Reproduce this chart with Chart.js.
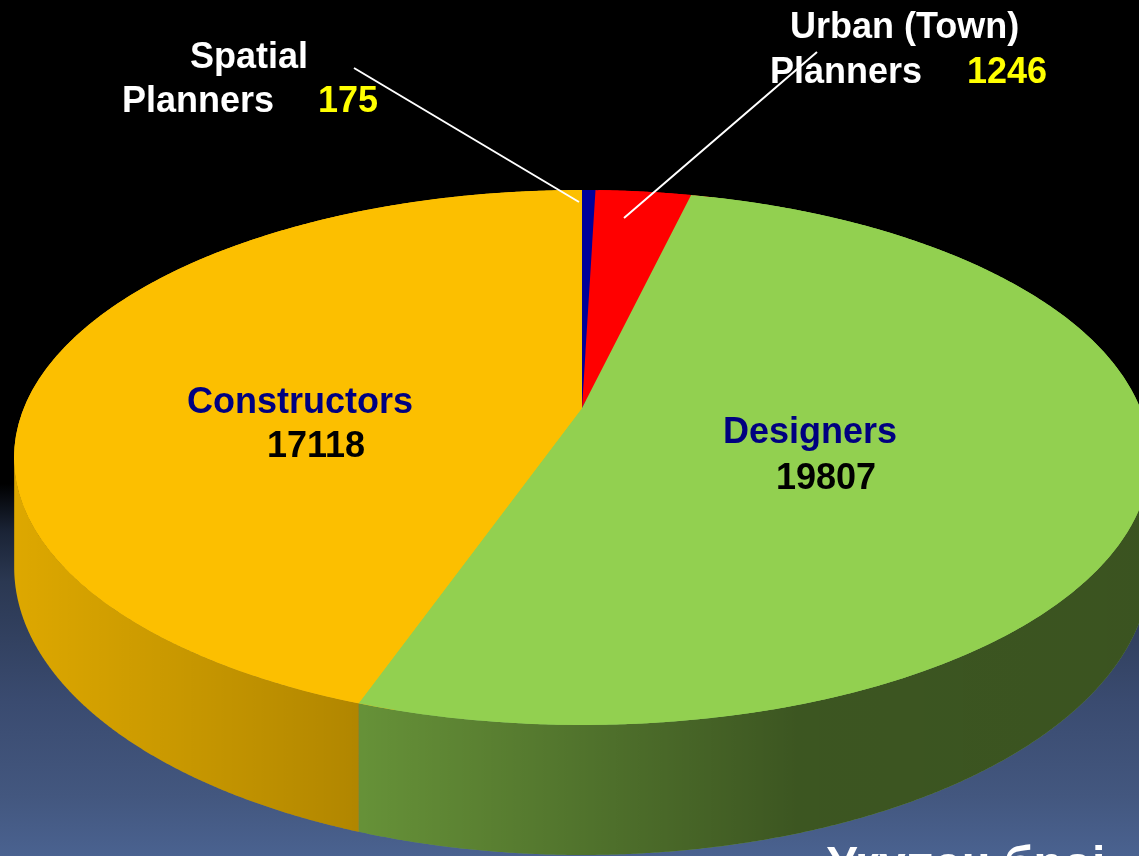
<!DOCTYPE html>
<html>
<head>
<meta charset="utf-8">
<script src="https://cdn.jsdelivr.net/npm/chart.js@4/dist/chart.umd.min.js"></script>
<style>
  html, body { margin: 0; padding: 0; background: #000; overflow: hidden; }
  canvas { display: block; }
</style>
</head>
<body>
<canvas id="pieChart" width="1139" height="856"></canvas>
<script>
// data
const categories = ['Spatial Planners', 'Urban (Town) Planners', 'Designers', 'Constructors'];
const values = [175, 1246, 19807, 17118];
const colors = ['#000099', '#FF0000', '#92D050', '#FCBF00'];
const caption = 'Укупан број';

// perspective of the tilted disc: top edge 190, centre 408, front edge 725
const CX = 582, A = 408, B = 182.8, K = -0.185, C = 558, D = 106;
const FONT = 'bold 36px "Liberation Sans", Arial, sans-serif';

// point on the disc at angle t (canvas angle), h = 0 top face, 1 bottom of wall
function proj(r, t, h) {
    const u = r * Math.cos(t), v = r * Math.sin(t);
    const w = 1 + K * v;
    return [CX + C * u / w, (A + B * v + D * h) / w];
}

function tracePath(ctx, pts) {
    ctx.beginPath();
    pts.forEach((p, i) => i ? ctx.lineTo(p[0], p[1]) : ctx.moveTo(p[0], p[1]));
    ctx.closePath();
}

function arcPoints(lo, hi, h) {
    const pts = [];
    const n = Math.max(2, Math.ceil((hi - lo) / 0.004));
    for (let j = 0; j <= n; j++) pts.push(proj(1, lo + (hi - lo) * j / n, h));
    return pts;
}

function sideShade(ctx) {
    const g = ctx.createLinearGradient(14, 0, 1150, 0);
    g.addColorStop(0, 'rgba(0,0,0,0.12)');
    g.addColorStop(0.29, 'rgba(0,0,0,0.29)');
    g.addColorStop(0.69, 'rgba(0,0,0,0.59)');
    g.addColorStop(1, 'rgba(0,0,0,0.6)');
    return g;
}

const pie3d = {
    id: 'pie3d',
    beforeDraw(chart) {
        const ctx = chart.ctx;
        const g = ctx.createLinearGradient(0, 0, 0, chart.height);
        g.addColorStop(0, '#000000');
        g.addColorStop(0.565, '#000000');
        g.addColorStop(0.62, '#1a2335');
        g.addColorStop(0.68, '#2b3852');
        g.addColorStop(0.82, '#3a4b70');
        g.addColorStop(0.93, '#43577f');
        g.addColorStop(1, '#4a6290');
        ctx.save();
        ctx.fillStyle = g;
        ctx.fillRect(0, 0, chart.width, chart.height);
        ctx.restore();
    },
    beforeDatasetsDraw(chart) {
        const ctx = chart.ctx;
        const meta = chart.getDatasetMeta(0);
        const shade = sideShade(ctx);
        const edge = Math.asin(-K);
        // walls on the visible front part of the rim
        meta.data.forEach((arc, i) => {
            const p = arc.getProps(['startAngle', 'endAngle']);
            for (let k = -1; k <= 1; k++) {
                const lo = Math.max(p.startAngle, 2 * Math.PI * k + edge);
                const hi = Math.min(p.endAngle, 2 * Math.PI * k + Math.PI - edge);
                if (hi <= lo) continue;
                tracePath(ctx, arcPoints(lo, hi, 0).concat(arcPoints(lo, hi, 1).reverse()));
                ctx.fillStyle = colors[i];
                ctx.fill();
                ctx.fillStyle = shade;
                ctx.fill();
            }
        });
        // library arcs squashed onto the top face
        const a = meta.data[0];
        const r = a.outerRadius;
        ctx.save();
        ctx.translate(CX, 457.5);
        ctx.scale(568 / r, 267.5 / r);
        ctx.translate(-a.x, -a.y);
    },
    afterDatasetsDraw(chart) {
        const ctx = chart.ctx;
        ctx.restore();
        const meta = chart.getDatasetMeta(0);

        // perspective top face from the same arc angles
        meta.data.forEach((arc, i) => {
            const p = arc.getProps(['startAngle', 'endAngle']);
            tracePath(ctx, [proj(0, 0, 0)].concat(arcPoints(p.startAngle, p.endAngle, 0)));
            ctx.fillStyle = colors[i];
            ctx.fill();
        });

        ctx.save();
        ctx.font = FONT;
        ctx.textBaseline = 'alphabetic';
        ctx.textAlign = 'left';

        ctx.fillStyle = '#FFFFFF';
        ctx.fillText('Spatial', 190, 68);
        ctx.fillText('Planners', 122, 112);
        ctx.fillStyle = '#FFFF00';
        ctx.fillText(String(values[0]), 318, 112);

        ctx.fillStyle = '#FFFFFF';
        ctx.fillText('Urban (Town)', 790, 38);
        ctx.fillText('Planners', 770, 83);
        ctx.fillStyle = '#FFFF00';
        ctx.fillText(String(values[1]), 967, 83);

        ctx.fillStyle = '#000080';
        ctx.fillText(categories[3], 187, 413);
        ctx.fillText(categories[2], 723, 443);
        ctx.fillStyle = '#000000';
        ctx.fillText(String(values[3]), 267, 457);
        ctx.fillText(String(values[2]), 776, 489);

        // leader lines
        ctx.strokeStyle = '#FFFFFF';
        ctx.lineWidth = 2;
        ctx.beginPath();
        ctx.moveTo(354, 68);
        ctx.lineTo(579, 202);
        ctx.moveTo(817, 52);
        ctx.lineTo(624, 218);
        ctx.stroke();

        // caption, cut off by the bottom edge
        ctx.fillStyle = '#FFFFFF';
        ctx.font = 'bold 48px "Liberation Sans", Arial, sans-serif';
        ctx.fillText(caption, 827, 880);
        ctx.restore();
    }
};

new Chart(document.getElementById('pieChart').getContext('2d'), {
    type: 'pie',
    data: {
        labels: categories,
        datasets: [{
            data: values,
            backgroundColor: colors,
            borderWidth: 0
        }]
    },
    options: {
        responsive: false,
        animation: false,
        layout: { padding: 0 },
        plugins: {
            legend: { display: false },
            tooltip: { enabled: false }
        }
    },
    plugins: [pie3d]
});
</script>
</body>
</html>
